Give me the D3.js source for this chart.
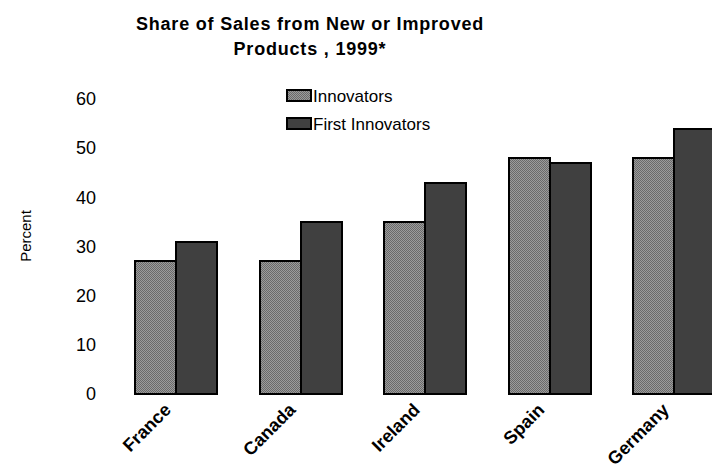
<!DOCTYPE html>
<html>
<head>
<meta charset="utf-8">
<script src="https://cdn.jsdelivr.net/npm/d3@7"></script>
<style>
  html, body { margin: 0; padding: 0; background: #fff; }
  svg { display: block; font-family: "Liberation Sans", Arial, sans-serif; }
</style>
</head>
<body>
<svg id="chart" width="712" height="471"></svg>
<script>
// Share of sales from new or improved products, 1999 (percent)
const countries = ["France", "Canada", "Ireland", "Spain", "Germany"];
const seriesNames = ["Innovators", "First Innovators"];
const innovators = [27, 27, 35, 48, 48];
const firstInnovators = [31, 35, 43, 47, 54];
const yTicks = [0, 10, 20, 30, 40, 50, 60];

const svg = d3.select("#chart");

// pattern fill for the first series (fine dither of greys)
const defs = svg.append("defs");
const pat = defs.append("pattern")
  .attr("id", "dither")
  .attr("patternUnits", "userSpaceOnUse")
  .attr("width", 2).attr("height", 2);
pat.append("rect").attr("width", 2).attr("height", 2).attr("fill", "#9c9c9c");
pat.append("rect").attr("width", 1).attr("height", 1).attr("fill", "#6a6a6a");
pat.append("rect").attr("x", 1).attr("y", 1).attr("width", 1).attr("height", 1).attr("fill", "#6a6a6a");

const fills = ["url(#dither)", "#404040"];

const x0 = d3.scaleBand()
  .domain(countries)
  .range([113.75, 736.25])
  .paddingInner(0.3414)
  .paddingOuter(0.1707);

const x1 = d3.scaleBand()
  .domain(seriesNames)
  .range([0, x0.bandwidth()]);

const y = d3.scaleLinear().domain([0, 60]).range([394, 99]);

// title
const title = svg.append("text")
  .attr("text-anchor", "middle")
  .attr("font-weight", "bold")
  .attr("font-size", 18)
  .attr("letter-spacing", 0.8)
  .attr("fill", "#000");
title.append("tspan").attr("x", 310).attr("y", 30).text("Share of Sales from New or Improved");
title.append("tspan").attr("x", 310).attr("y", 55).text("Products , 1999*");

// y axis: labels only
const yAxis = d3.axisLeft(y).tickValues(yTicks).tickSize(0).tickPadding(0);
const gy = svg.append("g").attr("transform", "translate(96,0)").call(yAxis);
gy.select(".domain").remove();
gy.selectAll("text")
  .attr("font-size", 18)
  .attr("font-family", "Liberation Sans, Arial, sans-serif")
  .attr("fill", "#000");

svg.append("text")
  .attr("transform", "translate(31,236) rotate(-90)")
  .attr("text-anchor", "middle")
  .attr("font-size", 15)
  .attr("fill", "#000")
  .text("Percent");

// bars (snapped to whole pixels so the dither stays crisp)
const rows = countries.map((c, i) => ({ c, vals: [innovators[i], firstInnovators[i]] }));
const bars = [];
rows.forEach(r => r.vals.forEach((v, k) => bars.push({ c: r.c, k, v })));

svg.append("g").selectAll("rect")
  .data(bars)
  .join("rect")
  .attr("x", d => Math.round(x0(d.c) + x1(seriesNames[d.k])))
  .attr("y", d => Math.round(y(d.v)))
  .attr("width", Math.round(x1.bandwidth()))
  .attr("height", d => Math.round(y(0)) - Math.round(y(d.v)))
  .attr("fill", d => fills[d.k])
  .attr("stroke", "#000")
  .attr("stroke-width", 2);

// x category labels, rotated
const xAxis = d3.axisBottom(x0).tickSize(0).tickPadding(0);
const gx = svg.append("g").call(xAxis);
gx.select(".domain").remove();
gx.selectAll(".tick text")
  .attr("y", 0)
  .attr("dy", 0)
  .attr("text-anchor", "end")
  .attr("font-size", 18)
  .attr("font-weight", "bold")
  .attr("font-family", "Liberation Sans, Arial, sans-serif")
  .attr("fill", "#000")
  .attr("transform", "translate(-4,411) rotate(-45)");

// legend
const legend = svg.append("g");
seriesNames.forEach((name, k) => {
  const ly = 90 + k * 28;
  legend.append("rect")
    .attr("x", 287).attr("y", ly)
    .attr("width", 24).attr("height", 11)
    .attr("fill", fills[k])
    .attr("stroke", "#000")
    .attr("stroke-width", 2);
  legend.append("text")
    .attr("x", 313).attr("y", ly + 12)
    .attr("font-size", 17)
    .attr("fill", "#000")
    .text(name);
});
</script>
</body>
</html>
